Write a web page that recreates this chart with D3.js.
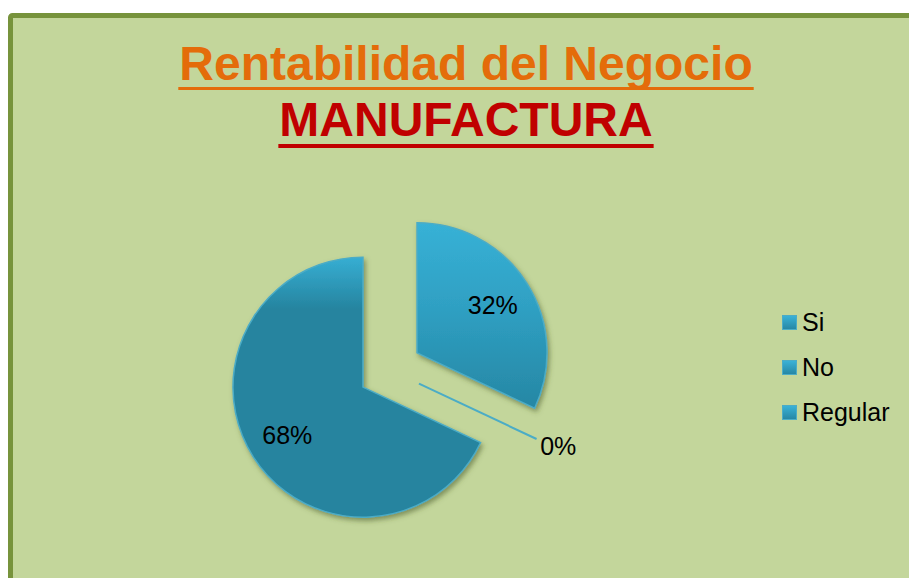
<!DOCTYPE html>
<html>
<head>
<meta charset="utf-8">
<script src="https://cdn.jsdelivr.net/npm/d3@7"></script>
<style>
  html, body { margin: 0; padding: 0; background: #fff; }
  #chart { width: 909px; height: 578px; overflow: hidden; }
  text { font-family: Arial, "Liberation Sans", sans-serif; }
</style>
</head>
<body>
<div id="chart"></div>
<script>
// chart values
var categories = ["Si", "No", "Regular"];
var values = [32, 68, 0];
// order the slices are laid round the pie (zero slice sits between Si and No)
var sliceOrder = ["Si", "Regular", "No"];
var titleLines = ["Rentabilidad del Negocio", "MANUFACTURA"];

var width = 909, height = 578;
var cx = 390, cy = 370, radius = 130, explode = 32;

var svg = d3.select("#chart").append("svg")
  .attr("width", width)
  .attr("height", height);

var defs = svg.append("defs");

// drop shadow under the slices
var shadow = defs.append("filter").attr("id", "shadow")
  .attr("x", "-20%").attr("y", "-20%").attr("width", "140%").attr("height", "140%");
shadow.append("feDropShadow")
  .attr("dx", 2).attr("dy", 3).attr("stdDeviation", 2.5)
  .attr("flood-color", "#4a5a2a").attr("flood-opacity", 0.55);

// gradients per slice
var gradSi = defs.append("linearGradient").attr("id", "g0")
  .attr("x1", 0).attr("y1", 0).attr("x2", 0).attr("y2", 1);
gradSi.append("stop").attr("offset", "0%").attr("stop-color", "#37b1d6");
gradSi.append("stop").attr("offset", "45%").attr("stop-color", "#2fa0c3");
gradSi.append("stop").attr("offset", "100%").attr("stop-color", "#2687a4");

var gradNo = defs.append("linearGradient").attr("id", "g1")
  .attr("x1", 0).attr("y1", 0).attr("x2", 0).attr("y2", 1);
gradNo.append("stop").attr("offset", "0%").attr("stop-color", "#36aed3");
gradNo.append("stop").attr("offset", "20%").attr("stop-color", "#26849f");
gradNo.append("stop").attr("offset", "100%").attr("stop-color", "#26849f");

var gradReg = defs.append("linearGradient").attr("id", "g2")
  .attr("x1", 0).attr("y1", 0).attr("x2", 0).attr("y2", 1);
gradReg.append("stop").attr("offset", "0%").attr("stop-color", "#3ab3d8");
gradReg.append("stop").attr("offset", "100%").attr("stop-color", "#2686a3");

// chart area with border
svg.append("rect")
  .attr("x", 10.5).attr("y", 15.5)
  .attr("width", 1000).attr("height", 1000)
  .attr("rx", 2)
  .attr("fill", "#c3d69b")
  .attr("stroke", "#77933c")
  .attr("stroke-width", 5);

// titles
var titleColors = ["#e46c0a", "#c00000"];
var titleY = [80, 136];
titleLines.forEach(function (t, i) {
  var txt = svg.append("text")
    .attr("x", 466).attr("y", titleY[i])
    .attr("text-anchor", "middle")
    .attr("font-size", 48)
    .attr("font-weight", "bold")
    .attr("fill", titleColors[i])
    .text(t);
  var w = txt.node().getComputedTextLength();
  svg.append("rect")
    .attr("x", 466 - w / 2 - 1).attr("y", titleY[i] + 7 + i)
    .attr("width", w + 2).attr("height", 3 + i)
    .attr("fill", titleColors[i]);
});

// pie
var pie = d3.pie()
  .value(function (d) { return d.value; })
  .sort(function (a, b) { return sliceOrder.indexOf(a.name) - sliceOrder.indexOf(b.name); });
var pieData = categories.map(function (c, i) { return { name: c, value: values[i], index: i }; });
var arcs = pie(pieData);
var arc = d3.arc().innerRadius(0).outerRadius(radius);
var labelArc = d3.arc().innerRadius(radius * 0.69).outerRadius(radius * 0.69);

function offset(d) {
  var a = (d.startAngle + d.endAngle) / 2;
  return [explode * Math.sin(a), -explode * Math.cos(a)];
}

var g = svg.append("g").attr("transform", "translate(" + cx + "," + cy + ")");

var slices = g.selectAll(".slice")
  .data(arcs)
  .enter().append("g")
  .attr("class", "slice")
  .attr("transform", function (d) {
    var o = offset(d);
    return "translate(" + o[0] + "," + o[1] + ")";
  });

slices.filter(function (d) { return d.value > 0; })
  .append("path")
  .attr("d", arc)
  .attr("fill", function (d) { return "url(#g" + d.data.index + ")"; })
  .attr("stroke", "#4bacc6")
  .attr("stroke-width", 1.5)
  .attr("filter", "url(#shadow)");

// zero slice draws as a single radius line
slices.filter(function (d) { return d.value === 0; })
  .append("line")
  .attr("x1", 0).attr("y1", 0)
  .attr("x2", function (d) { return radius * Math.sin(d.startAngle); })
  .attr("y2", function (d) { return -radius * Math.cos(d.startAngle); })
  .attr("stroke", "#4bacc6")
  .attr("stroke-width", 2);

// data labels
slices.append("text")
  .attr("font-size", 25)
  .attr("fill", "#000")
  .attr("dy", "0.35em")
  .attr("text-anchor", function (d) { return d.value === 0 ? "start" : "middle"; })
  .attr("x", function (d) {
    if (d.value === 0) return (radius + 4) * Math.sin(d.startAngle);
    return labelArc.centroid(d)[0];
  })
  .attr("y", function (d) {
    if (d.value === 0) return (radius + 4) * -Math.cos(d.startAngle) + 6;
    return labelArc.centroid(d)[1];
  })
  .text(function (d) { return d.value + "%"; });

// legend
var legend = svg.append("g").attr("transform", "translate(782,315)");
var items = legend.selectAll(".item")
  .data(categories)
  .enter().append("g")
  .attr("class", "item")
  .attr("transform", function (d, i) { return "translate(0," + i * 45 + ")"; });

items.append("rect")
  .attr("x", 0.5).attr("y", 0.5)
  .attr("width", 14).attr("height", 14)
  .attr("fill", "url(#g2)")
  .attr("stroke", "#4bacc6")
  .attr("stroke-width", 1);

items.append("text")
  .attr("x", 20).attr("y", 16)
  .attr("font-size", 25)
  .attr("fill", "#000")
  .text(function (d) { return d; });
</script>
</body>
</html>
